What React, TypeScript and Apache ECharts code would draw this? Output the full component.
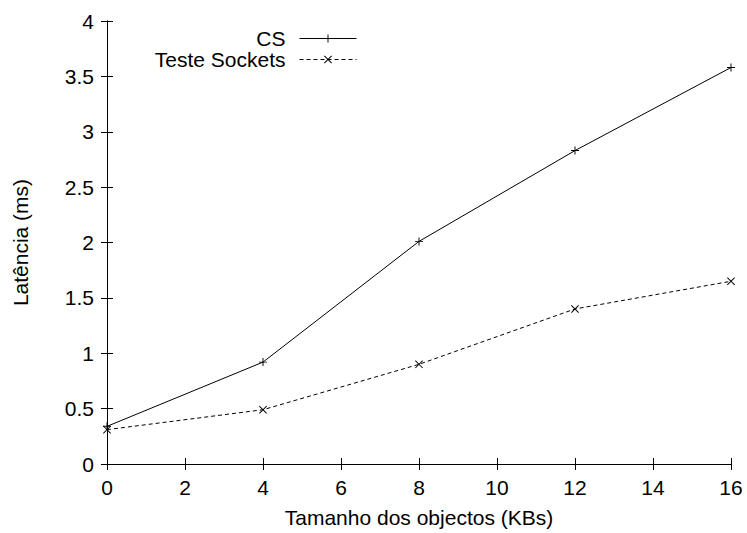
import React, { useEffect, useRef } from "react";
import * as echarts from "echarts";

const xValues = [0, 4, 8, 12, 16];
const csValues = [0.34, 0.92, 2.01, 2.83, 3.58];
const socketValues = [0.31, 0.49, 0.9, 1.4, 1.65];
const seriesNames = ["CS", "Teste Sockets"];
const xAxisTitle = "Tamanho dos objectos (KBs)";
const yAxisTitle = "Latência (ms)";

const FONT = '"Liberation Sans", Arial, Helvetica, sans-serif';
const PLUS = "path://M-0.12,-1H0.12V-0.12H1V0.12H0.12V1H-0.12V0.12H-1V-0.12H-0.12Z";
const CROSS =
  "path://M-1,-0.83L-0.83,-1L1,0.83L0.83,1ZM-0.83,1L-1,0.83L0.83,-1L1,-0.83Z";

export default function App() {
  const ref = useRef<HTMLDivElement>(null);
  useEffect(() => {
    if (!ref.current) return;
    const chart = echarts.init(ref.current, undefined, { renderer: "svg" });
    const axisCommon = {
      type: "value" as const,
      axisLine: { show: true, lineStyle: { color: "#000", width: 1 } },
      axisTick: { show: true, inside: true, length: 6, lineStyle: { color: "#000", width: 1 } },
      splitLine: { show: false },
    };
    const labelStyle = { color: "#000", fontSize: 21, fontFamily: FONT };
    chart.setOption({
      animation: false,
      backgroundColor: "#fff",
      grid: { left: 107, right: 16, top: 21, bottom: 64 },
      legend: {
        orient: "vertical",
        align: "right",
        right: 390,
        top: 28,
        padding: 0,
        itemGap: 0,
        itemWidth: 57,
        itemHeight: 10,
        data: seriesNames,
        lineStyle: { width: 1 },
        textStyle: { ...labelStyle, lineHeight: 21, padding: [0, 9, 0, 0] },
      },
      xAxis: [
        {
          ...axisCommon,
          position: "bottom",
          min: 0,
          max: 16,
          interval: 2,
          axisLabel: { ...labelStyle, margin: 13 },
          name: xAxisTitle,
          nameLocation: "middle",
          nameGap: 43,
          nameTextStyle: labelStyle,
        },
        {
          ...axisCommon,
          position: "top",
          min: 0,
          max: 16,
          interval: 2,
          axisLabel: { show: false },
        },
      ],
      yAxis: [
        {
          ...axisCommon,
          position: "left",
          min: 0,
          max: 4,
          interval: 0.5,
          axisLabel: { ...labelStyle, margin: 13 },
          name: yAxisTitle,
          nameLocation: "middle",
          nameRotate: 90,
          nameGap: 76,
          nameTextStyle: labelStyle,
        },
        {
          ...axisCommon,
          position: "right",
          min: 0,
          max: 4,
          interval: 0.5,
          axisLabel: { show: false },
        },
      ],
      series: [
        {
          name: seriesNames[0],
          type: "line",
          data: xValues.map((x, i) => [x, csValues[i]]),
          symbol: PLUS,
          symbolSize: 8,
          showSymbol: true,
          itemStyle: { color: "#000" },
          lineStyle: { color: "#000", width: 1, type: "solid" },
          emphasis: { disabled: true },
        },
        {
          name: seriesNames[1],
          type: "line",
          data: xValues.map((x, i) => [x, socketValues[i]]),
          symbol: CROSS,
          symbolSize: 8,
          showSymbol: true,
          itemStyle: { color: "#000" },
          lineStyle: { color: "#000", width: 1, type: [4, 3] },
          emphasis: { disabled: true },
        },
      ],
    });
    return () => chart.dispose();
  }, []);
  return (
    <div
      ref={ref}
      style={{ position: "absolute", left: 0, top: 0, width: 747, height: 533 }}
    />
  );
}
